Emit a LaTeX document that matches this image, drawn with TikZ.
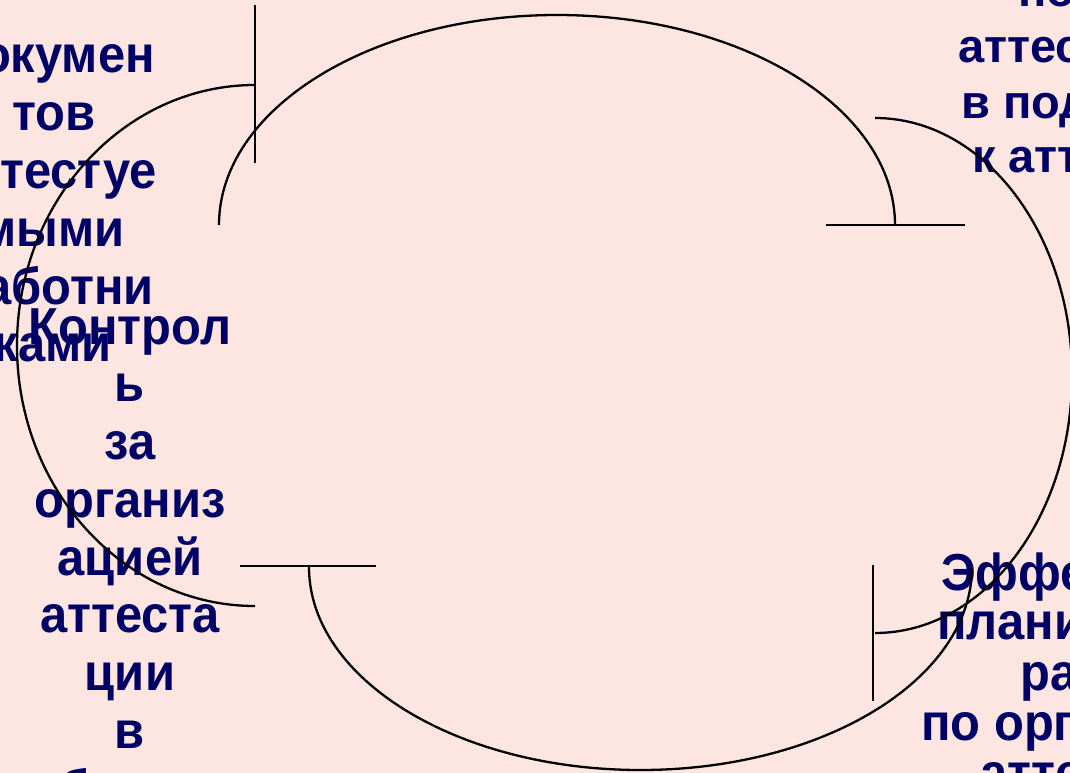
\documentclass[tikz,border=0pt]{standalone}
\usepackage{fontspec}
\setmainfont{Liberation Sans}
\newfontfamily\tallfont{Liberation Sans}[FakeStretch=0.94]
\definecolor{bgpink}{RGB}{253,230,226}
\definecolor{navytxt}{RGB}{0,0,102}
\begin{document}
\begin{tikzpicture}[x=1pt,y=-1pt,
  lbl/.style={text=navytxt, font=\tallfont\bfseries\fontsize{52}{60}\selectfont, inner sep=0pt},
  lblsm/.style={text=navytxt, font=\bfseries\fontsize{47}{55}\selectfont, inner sep=0pt},
  lblbr/.style={text=navytxt, font=\tallfont\bfseries\fontsize{52}{55}\selectfont, inner sep=0pt},
  arcline/.style={line width=2.3pt, draw=black},
  tbar/.style={line width=2.6pt, draw=black}]
\path[use as bounding box, fill=bgpink] (0,0) rectangle (1070,773);
\clip (0,0) rectangle (1070,773);

% left-top block (clipped on the left)
\node[lbl, anchor=base east] (a1) at (155,73) {Докумен};
\node[lbl, anchor=base east] (a2) at (96,130.75) {тов};
\node[lbl, anchor=base east] (a3) at (157,188.5) {аттестуе};
\node[lbl, anchor=base east] (a4) at (125,246.25) {мыми};
\node[lbl, anchor=base east] (a5) at (154,304) {работни};
\node[lbl, anchor=base east] (a6) at (112,361.75) {ками};

% middle-left block
\node[lbl, anchor=base] (b1) at (130,344) {Контрол};
\node[lbl, anchor=base] (b2) at (130,401.75) {ь};
\node[lbl, anchor=base] (b3) at (130,459.5) {за};
\node[lbl, anchor=base] (b4) at (130,517.25) {организ};
\node[lbl, anchor=base] (b5) at (130,575) {ацией};
\node[lbl, anchor=base] (b6) at (130,632.75) {аттеста};
\node[lbl, anchor=base] (b7) at (130,690.5) {ции};
\node[lbl, anchor=base] (b8) at (130,748.25) {в};
\node[lbl, anchor=base] (b9) at (130,806) {образов};

% right-top block (clipped on the right)
\node[lblsm, anchor=base west] (c1) at (1018,7) {помощь};
\node[lblsm, anchor=base west] (c2) at (958,63) {аттестуемым};
\node[lblsm, anchor=base west] (c3) at (961,118) {в подготовке};
\node[lblsm, anchor=base west] (c4) at (972,172) {к аттестации};

% right-bottom block (clipped on the right)
\node[lblbr, anchor=base west] (d1) at (941,590) {Эффективное};
\node[lblbr, anchor=base west] (d2) at (937,639) {планирование};
\node[lblbr, anchor=base west] (d3) at (1020,690) {работы};
\node[lblbr, anchor=base west] (d4) at (921,740) {по организации};
\node[lblbr, anchor=base west] (d5) at (980,790) {аттестации};

% arc ends
\coordinate (topS) at (219,225);
\coordinate (leftS) at (255,85);
\coordinate (botS) at (309,567);
\coordinate (rightS) at (875,118);

% arcs
\draw[arcline] (topS) arc[start angle=180, end angle=360, x radius=338, y radius=210];
\draw[arcline] (leftS) arc[start angle=270, end angle=90, x radius=238, y radius=260.5];
\draw[arcline] (botS) arc[start angle=180, end angle=0, x radius=331.5, y radius=203];
\draw[arcline] (rightS) arc[start angle=270, end angle=450, x radius=197, y radius=257.5];

% T bars
\coordinate (tb1a) at (826,225); \coordinate (tb1b) at (965,225);
\coordinate (tb2a) at (255,5);   \coordinate (tb2b) at (255,163);
\coordinate (tb3a) at (240,566); \coordinate (tb3b) at (376,566);
\coordinate (tb4a) at (873,565); \coordinate (tb4b) at (873,701);
\draw[tbar] (tb1a) -- (tb1b);
\draw[tbar] (tb2a) -- (tb2b);
\draw[tbar] (tb3a) -- (tb3b);
\draw[tbar] (tb4a) -- (tb4b);
\end{tikzpicture}
\end{document}
